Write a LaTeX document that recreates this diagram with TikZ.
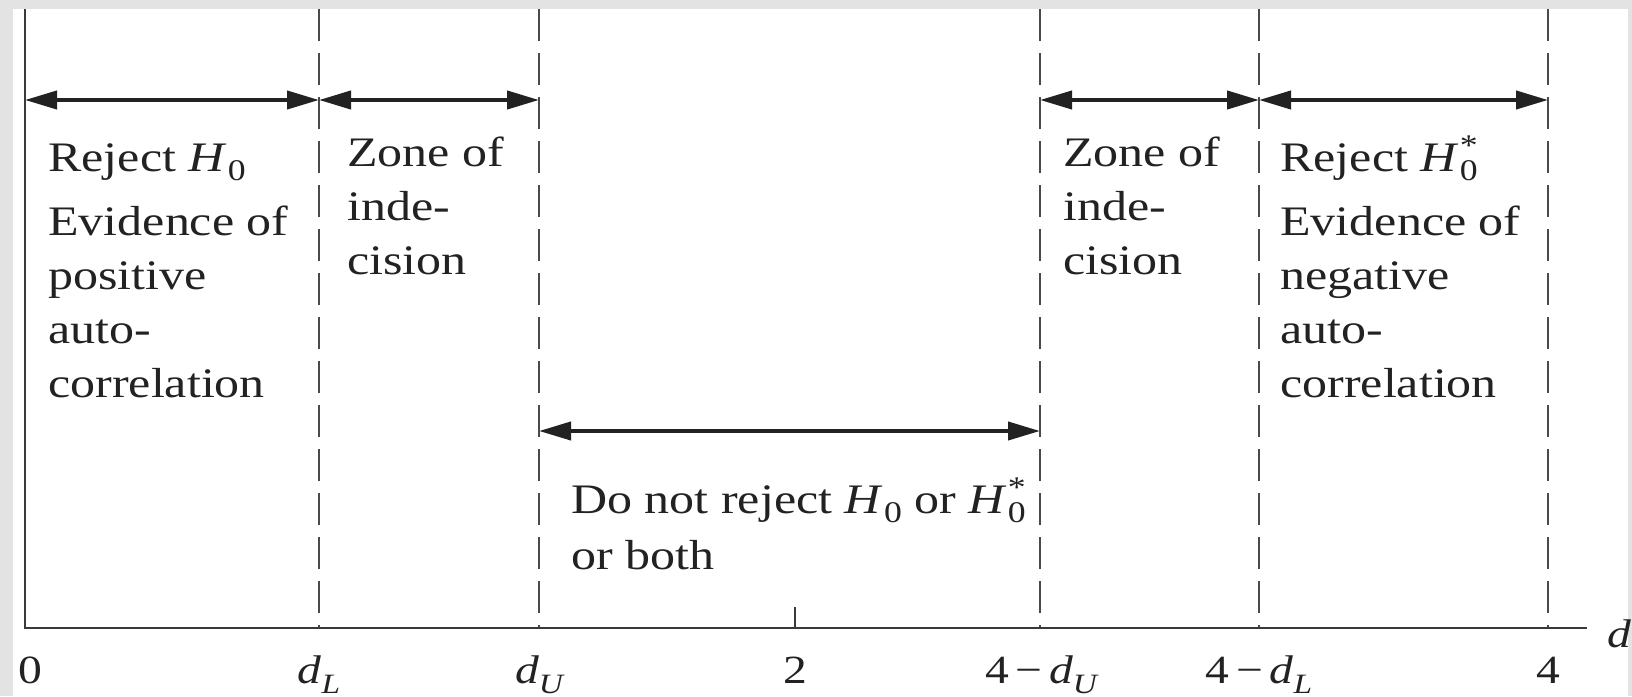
\documentclass[tikz,border=0pt]{standalone}
\usepackage{fontspec}
\setmainfont{Liberation Serif}[FakeStretch=1.19]
\usetikzlibrary{arrows.meta}
\definecolor{bggray}{HTML}{E3E3E3}
\definecolor{ink}{HTML}{222222}
\definecolor{axisc}{HTML}{3A3A3A}
\definecolor{dashc}{HTML}{4A4A4A}
\newcommand\sbf{\fontsize{15}{15}\selectfont}
\newcommand\Hz{\textit{H}\kern0.5pt\raisebox{-0.22em}{\sbf 0}}
\newcommand\Hs{\textit{H}\kern0.5pt\rlap{\raisebox{0.38em}{\sbf *}}\raisebox{-0.22em}{\sbf 0}}
\newcommand\lsub[1]{\raisebox{-0.25em}{\fontsize{14}{14}\selectfont\itshape #1}}
\newcommand\mn{\,\char"2212\,}
\begin{document}
\begin{tikzpicture}[x=0.5pt,y=-0.5pt,
  txt/.style={font=\fontsize{21}{27}\selectfont, text=ink, align=left, inner sep=0pt, anchor=base west},
  lab/.style={font=\fontsize{20}{24}\selectfont, text=ink, inner sep=0pt, anchor=base},
  axisline/.style={draw=axisc, line width=1.4pt},
  dashline/.style={draw=dashc, line width=1pt, dash pattern=on 16pt off 6pt},
  dbl/.style={draw=ink, line width=2pt, {Triangle[length=16pt,width=9pt]}-{Triangle[length=16pt,width=9pt]}}]
\fill[bggray] (0,0) rectangle (1632,696);
\fill[white] (13,9) rectangle (1628,696);
\useasboundingbox (0,0) rectangle (1632,696);
% axis coordinates
\coordinate (o) at (25,628);
\coordinate (otop) at (25,9);
\coordinate (xend) at (1587,628);
\coordinate (dLt) at (319,9);   \coordinate (dLb) at (319,628);
\coordinate (dUt) at (539,9);   \coordinate (dUb) at (539,628);
\coordinate (ndUt) at (1040,9); \coordinate (ndUb) at (1040,628);
\coordinate (ndLt) at (1259,9); \coordinate (ndLb) at (1259,628);
\coordinate (ft) at (1548,9);   \coordinate (fb) at (1548,628);
\coordinate (twot) at (795,607); \coordinate (twob) at (795,628);
% arrow end points
\coordinate (a0) at (25,100);
\coordinate (a1) at (319,100);
\coordinate (a2) at (539,100);
\coordinate (a3) at (1040,100);
\coordinate (a4) at (1259,100);
\coordinate (a5) at (1548,100);
\coordinate (m0) at (539,431);
\coordinate (m1) at (1040,431);
% dashed lines
\draw[dashline] (dLt) -- (dLb);
\draw[dashline] (dUt) -- (dUb);
\draw[dashline] (ndUt) -- (ndUb);
\draw[dashline] (ndLt) -- (ndLb);
\draw[dashline] (ft) -- (fb);
% axes
\draw[axisline] (otop) -- (o) -- (xend);
\draw[axisline] (twot) -- (twob);
% arrows
\draw[dbl] (a0) -- (a1);
\draw[dbl] (a1) -- (a2);
\draw[dbl] (a3) -- (a4);
\draw[dbl] (a4) -- (a5);
\draw[dbl] (m0) -- (m1);
% texts (anchored at the baseline of their last line)
\node[txt] (rejL) at (48,397) {Reject \Hz\\[5pt]Evidence of\\positive\\auto-\\correlation};
\node[txt] (zoneL) at (347,274) {Zone of\\inde-\\cision};
\node[txt] (zoneR) at (1063,274) {Zone of\\inde-\\cision};
\node[txt] (rejR) at (1280,397) {Reject \Hs\\[5pt]Evidence of\\negative\\auto-\\correlation};
\node[txt, font=\fontsize{21}{28}\selectfont] (dnr) at (571,569) {Do not reject \Hz{} or \Hs\\or both};
% tick labels
\node[lab] (l0) at (30,683) {0};
\node[lab] (ldL) at (319,683) {\textit{d}\lsub{L}};
\node[lab] (ldU) at (539,683) {\textit{d}\lsub{U}};
\node[lab] (l2) at (795,683) {2};
\node[lab] (lndU) at (1041,683) {4\mn\textit{d}\lsub{U}};
\node[lab] (lndL) at (1259,683) {4\mn\textit{d}\lsub{L}};
\node[lab] (l4) at (1548,683) {4};
\node[lab, anchor=base west] (ld) at (1607,647) {\textit{d}};
\end{tikzpicture}
\end{document}
